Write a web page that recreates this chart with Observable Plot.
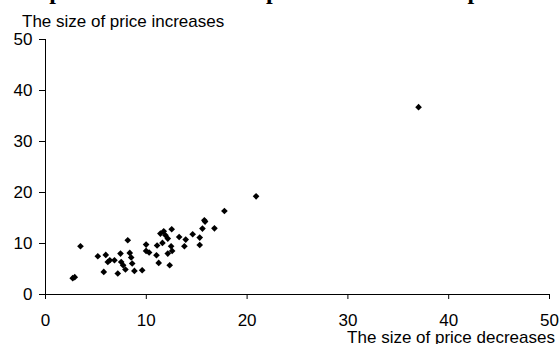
<!DOCTYPE html>
<html>
<head>
<meta charset="utf-8">
<script src="https://cdn.jsdelivr.net/npm/d3@7"></script>
<script src="https://cdn.jsdelivr.net/npm/@observablehq/plot@0.6"></script>
<style>
  html, body { margin: 0; padding: 0; background: #fff; }
  #wrap { position: relative; width: 559px; height: 344px; overflow: hidden; background: #fff; }
  #title { position: absolute; left: 0; top: -21px; width: 559px; text-align: center; white-space: nowrap;
           font: bold 24px "Liberation Serif", "Times New Roman", serif; line-height: 24px; color: #000; }
  .lab { position: absolute; font: 17px "Liberation Sans", Arial, sans-serif; line-height: 17px; color: #000; white-space: nowrap; }
  #ylab { left: 22px; top: 13px; }
  #xlab { right: 4px; top: 329px; }
</style>
</head>
<body>
<div id="wrap">
  <div id="title">Comparison of the size of price increases and price decreases by major product groups</div>
  <div id="chart"></div>
  <div id="ylab" class="lab">The size of price increases</div>
  <div id="xlab" class="lab">The size of price decreases</div>
</div>
<script>
const decreases = [2.7, 2.9, 3.47, 5.19, 5.78, 5.98, 6.18, 6.38, 6.84, 7.17, 7.44, 7.51, 7.70, 7.93, 8.16, 8.36, 8.50, 8.60, 8.82, 9.59,
  9.98, 9.98, 10.28, 11.01, 11.07, 11.23, 11.40, 11.60, 11.73, 11.90, 12.13, 12.13, 12.32, 12.46, 12.56, 12.52, 13.26, 13.78, 13.91, 14.60,
  15.30, 15.30, 15.57, 15.76, 15.83, 16.76, 17.75, 20.89, 37.01];
const increases = [3.2, 3.4, 9.46, 7.50, 4.43, 7.76, 6.38, 6.72, 6.72, 4.11, 8.03, 6.38, 5.74, 4.90, 10.63, 8.15, 7.25, 6.07, 4.62, 4.76,
  9.79, 8.54, 8.23, 7.70, 9.60, 6.19, 11.95, 10.11, 12.40, 11.61, 10.97, 8.03, 5.74, 9.46, 8.54, 12.79, 11.28, 9.46, 10.77, 11.81,
  11.16, 9.71, 12.93, 14.55, 14.30, 12.98, 16.37, 19.25, 36.74];
const xTicks = [0, 10, 20, 30, 40, 50];
const yTicks = [0, 10, 20, 30, 40, 50];

const points = decreases.map((d, i) => ({dec: d, inc: increases[i]}));

const chart = Plot.plot({
  width: 559,
  height: 344,
  marginLeft: 45,
  marginRight: 10,
  marginTop: 39,
  marginBottom: 50,
  style: {fontFamily: "'Liberation Sans', Arial, sans-serif", fontSize: "17px", color: "#000", background: "transparent", overflow: "visible"},
  x: {domain: [0, 50]},
  y: {domain: [0, 50]},
  marks: [
    Plot.axisY({ticks: yTicks, tickSize: 6, tickPadding: 7, label: null, tickFormat: d => String(d)}),
    Plot.axisX({ticks: xTicks, tickSize: 5, tickPadding: 14, label: null, tickFormat: d => String(d)}),
    Plot.ruleX([0], {stroke: "#000"}),
    Plot.ruleY([0], {stroke: "#000"}),
    Plot.dot(points, {x: "dec", y: "inc", symbol: "diamond2", r: 3, fill: "#000", stroke: null})
  ]
});
document.getElementById("chart").appendChild(chart);
</script>
</body>
</html>
